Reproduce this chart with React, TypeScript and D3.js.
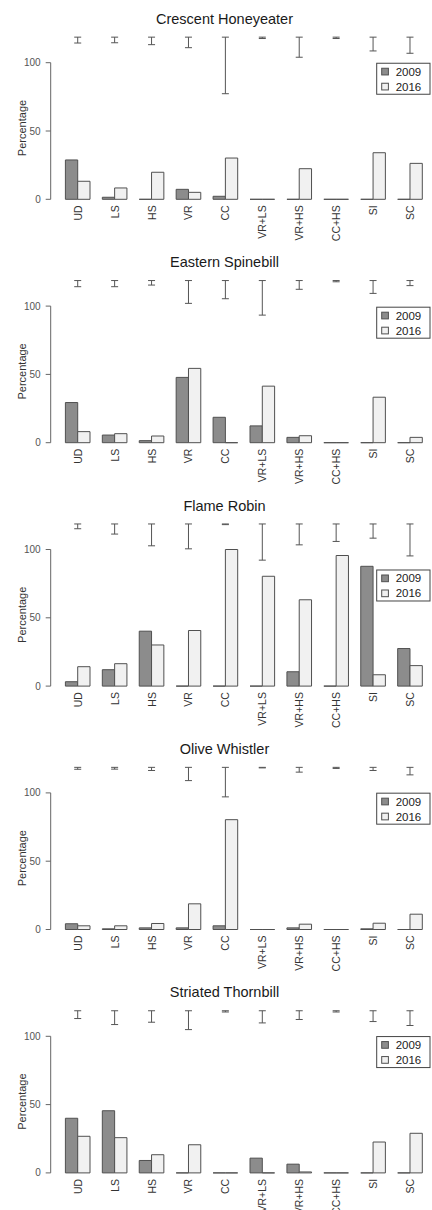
import React from 'react';
import * as d3 from 'd3';

const categories = ['UD', 'LS', 'HS', 'VR', 'CC', 'VR+LS', 'VR+HS', 'CC+HS', 'SI', 'SC'];
const years = ['2009', '2016'];
const species = ['Crescent Honeyeater', 'Eastern Spinebill', 'Flame Robin', 'Olive Whistler', 'Striated Thornbill'];
const yTicks = [0, 50, 100];

const crescent2009 = [28.8, 1.5, 0, 7.3, 2.2, 0, 0, 0, 0, 0];
const crescent2016 = [13.2, 8.3, 19.8, 5.1, 30.2, 0, 22.4, 0, 34.1, 26.3];
const crescentErrLow = [114.4, 114.6, 113.2, 111, 77.3, 117.7, 104, 117.7, 108.6, 106.9];

const spinebill2009 = [29.4, 5.6, 1.5, 47.8, 18.6, 12.3, 3.9, 0, 0, 0];
const spinebill2016 = [8.1, 6.6, 4.9, 54.4, 0, 41.4, 5.1, 0, 33.3, 3.9];
const spinebillErrLow = [114.2, 114.2, 115.4, 102, 105.4, 93.4, 112.3, 117.8, 109.3, 115];

const robin2009 = [3.2, 12, 40.2, 0, 0, 0, 10.5, 0, 87.7, 27.5];
const robin2016 = [14.2, 16.4, 30.1, 40.7, 100, 80.4, 63.2, 95.6, 8.3, 15];
const robinErrLow = [115.2, 111.3, 102.7, 100.5, 118.2, 92.2, 103.4, 105.9, 108.3, 95.3];

const whistler2009 = [4.2, 0.5, 1.2, 1.2, 2.7, 0, 1.2, 0, 0.5, 0];
const whistler2016 = [2.7, 2.7, 4.4, 18.8, 80.4, 0, 3.9, 0, 4.6, 11.2];
const whistlerErrLow = [117.3, 117.4, 116.4, 109, 97.1, 118.3, 115.2, 117.9, 116.4, 113.2];

const thornbill2009 = [40, 45.5, 9.1, 0, 0, 10.8, 6.4, 0, 0, 0];
const thornbill2016 = [26.8, 25.8, 13.3, 20.6, 0, 0, 0.7, 0, 22.6, 29];
const thornbillErrLow = [113, 108.6, 110.3, 104.9, 117.8, 109.8, 112.3, 117.8, 110.8, 107.9];

const errTop = 118.7;

const series2009 = [crescent2009, spinebill2009, robin2009, whistler2009, thornbill2009];
const series2016 = [crescent2016, spinebill2016, robin2016, whistler2016, thornbill2016];
const errLows = [crescentErrLow, spinebillErrLow, robinErrLow, whistlerErrLow, thornbillErrLow];
const legendTopValue = [99.6, 99.2, 85, 99.8, 99.8];

const W = 432;
const H = 1210;
const PANEL_STEP = 243.4;
const FONT = '"Liberation Sans", Arial, Helvetica, sans-serif';
const fills = ['#8c8c8c', '#f1f1f1'];
const barStroke = '#505050';

function Panel({ idx }: { idx: number }) {
  const off = idx * PANEL_STEP;
  const y = d3.scaleLinear().domain([0, 100]).range([199.3 + off, 62.7 + off]);
  const x = d3.scaleBand<string>().domain(categories).range([65.4, 422.3]).paddingInner(1 / 3).paddingOuter(0);
  const xi = d3.scaleBand<string>().domain(years).range([0, x.bandwidth()]);
  const vals = [series2009[idx], series2016[idx]];
  const axisX = 50.7;
  const legendTop = y(legendTopValue[idx]);
  const legendX = 376.7;
  return (
    <g>
      <text x={224.5} y={y(100) - 44} textAnchor="middle" dominantBaseline="central" fontSize={14.5} fill="#1a1a1a" fontFamily={FONT}>
        {species[idx]}
      </text>
      {/* y axis */}
      <line x1={axisX} x2={axisX} y1={y(0)} y2={y(100)} stroke="#666" strokeWidth={1} />
      {yTicks.map((t) => (
        <g key={t}>
          <line x1={axisX - 5} x2={axisX} y1={y(t)} y2={y(t)} stroke="#666" strokeWidth={1} />
          <text x={axisX - 10} y={y(t)} textAnchor="end" dominantBaseline="central" fontSize={10} fill="#555" fontFamily={FONT}>
            {t}
          </text>
        </g>
      ))}
      <text
        transform={`translate(${21.7},${(y(0) + y(100)) / 2 - 3}) rotate(-90)`}
        textAnchor="middle"
        dominantBaseline="central"
        fontSize={11}
        fill="#333"
        fontFamily={FONT}
      >
        Percentage
      </text>
      {/* bars */}
      {categories.map((c, ci) => (
        <g key={c}>
          {years.map((yr, yi) => {
            const v = vals[yi][ci];
            const x0 = (x(c) as number) + (xi(yr) as number);
            const w = xi.bandwidth();
            const p = d3.path();
            p.moveTo(x0, y(0));
            p.lineTo(x0, y(v));
            p.lineTo(x0 + w, y(v));
            p.lineTo(x0 + w, y(0));
            p.closePath();
            return <path key={yr} d={p.toString()} fill={fills[yi]} stroke={barStroke} strokeWidth={1} />;
          })}
          <text
            transform={`translate(${(x(c) as number) + x.bandwidth() / 2},${y(0) + 6}) rotate(-90)`}
            textAnchor="end"
            dominantBaseline="central"
            fontSize={10.5}
            fill="#333"
            fontFamily={FONT}
          >
            {c}
          </text>
          {/* error bar */}
          {(() => {
            const cx = (x(c) as number) + x.bandwidth() / 2;
            const yt = y(errTop);
            const yb = y(errLows[idx][ci]);
            return (
              <g stroke="#555" strokeWidth={1}>
                <line x1={cx} x2={cx} y1={yt} y2={yb} />
                <line x1={cx - 3.5} x2={cx + 3.5} y1={yt} y2={yt} />
                <line x1={cx - 3.5} x2={cx + 3.5} y1={yb} y2={yb} />
              </g>
            );
          })()}
        </g>
      ))}
      {/* legend */}
      <rect x={legendX} y={legendTop} width={53.3} height={31} fill="#fff" stroke="#444" strokeWidth={1} />
      {years.map((yr, yi) => (
        <g key={yr}>
          <rect x={legendX + 5} y={legendTop + 5 + yi * 15} width={6.7} height={6.7} fill={fills[yi]} stroke={barStroke} strokeWidth={1} />
          <text x={legendX + 19} y={legendTop + 8.4 + yi * 15} dominantBaseline="central" fontSize={11.5} fill="#222" fontFamily={FONT}>
            {yr}
          </text>
        </g>
      ))}
    </g>
  );
}

export default function App() {
  return (
    <svg width={W} height={H} style={{ position: 'absolute', left: 0, top: 0, background: '#fff' }}>
      <rect x={0} y={0} width={W} height={H} fill="#fff" />
      {species.map((s, i) => (
        <Panel key={s} idx={i} />
      ))}
    </svg>
  );
}
